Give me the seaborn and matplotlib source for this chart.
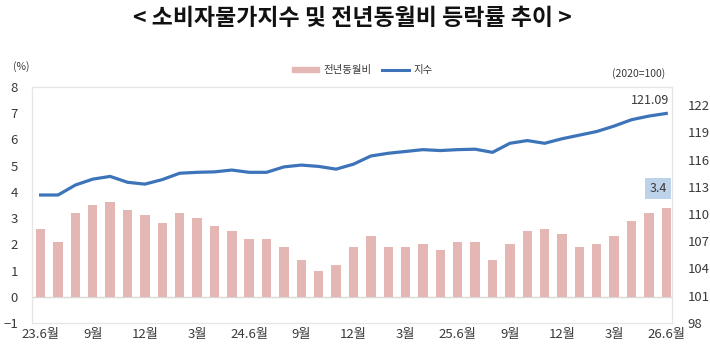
import numpy as np
import pandas as pd
import matplotlib.pyplot as plt
import seaborn as sns
from matplotlib.patches import Patch
from matplotlib.lines import Line2D

# 23.6 ~ 26.6 monthly
months = ['23.6', '23.7', '23.8', '23.9', '23.10', '23.11', '23.12',
          '24.1', '24.2', '24.3', '24.4', '24.5', '24.6', '24.7', '24.8', '24.9', '24.10', '24.11', '24.12',
          '25.1', '25.2', '25.3', '25.4', '25.5', '25.6', '25.7', '25.8', '25.9', '25.10', '25.11', '25.12',
          '26.1', '26.2', '26.3', '26.4', '26.5', '26.6']
yoy = [2.6, 2.1, 3.2, 3.5, 3.6, 3.3, 3.1, 2.8, 3.2, 3.0, 2.7, 2.5, 2.2, 2.2, 1.9, 1.4, 1.0, 1.2, 1.9,
       2.3, 1.9, 1.9, 2.0, 1.8, 2.1, 2.1, 1.4, 2.0, 2.5, 2.6, 2.4, 1.9, 2.0, 2.3, 2.9, 3.2, 3.4]
cpi = [112.1, 112.1, 113.2, 113.85, 114.15, 113.5, 113.3, 113.8, 114.5, 114.6, 114.65, 114.85, 114.6,
       114.6, 115.2, 115.4, 115.25, 114.95, 115.5, 116.4, 116.7, 116.9, 117.1, 117.0, 117.1, 117.15,
       116.8, 117.8, 118.1, 117.8, 118.3, 118.7, 119.1, 119.7, 120.4, 120.8, 121.09]
tick_labels = ['23.6월', '9월', '12월', '3월', '24.6월', '9월', '12월', '3월', '25.6월', '9월', '12월', '3월', '26.6월']

df = pd.DataFrame({'pos': np.arange(len(months)), 'month': months, 'yoy': yoy, 'cpi': cpi})

plt.rcParams['font.family'] = ['Noto Sans CJK KR', 'DejaVu Sans']

bar_color = '#E4B6B4'
line_color = '#3D74B9'
txt_color = '#3a3a3a'

fig = plt.figure(figsize=(7.1, 3.51), dpi=100)
ax = fig.add_axes([0.045, 0.080, 0.902, 0.672])

sns.barplot(data=df, x='pos', y='yoy', color=bar_color, width=0.54, native_scale=True,
            saturation=1, ax=ax)
ax.set_xlim(-0.5, 36.35)
ax.set_ylim(-1, 8)
ax.set_yticks(range(-1, 9))
ax.axhline(0, color='#d9d9d9', lw=1, zorder=0)

ax2 = ax.twinx()
sns.lineplot(data=df, x='pos', y='cpi', color=line_color, lw=2.3, ax=ax2)
ax2.set_ylim(98, 124)
ax2.set_yticks(range(98, 123, 3))

ax.set_xticks(np.arange(0, len(months), 3))
ax.set_xticklabels(tick_labels)
for a in (ax, ax2):
    a.set_xlabel('')
    a.set_ylabel('')
    a.tick_params(length=0, labelsize=9.5, colors=txt_color)
    for s in a.spines.values():
        s.set_color('#e6e6e6')
        s.set_linewidth(0.8)
ax.tick_params(axis='y', pad=10)
ax2.tick_params(axis='y', pad=11)
ax.tick_params(axis='x', pad=4)

ax2.annotate('121.09', (36, 121.09), xytext=(-12, 5), textcoords='offset points',
             ha='center', va='bottom', fontsize=9, color=txt_color)
ax.annotate('3.4', (36, 3.4), xytext=(-6, 9), textcoords='offset points',
            ha='center', va='bottom', fontsize=9, color=txt_color,
            bbox=dict(boxstyle='square,pad=0.35', fc='#BDD3EA', ec='none'))

handles = [Patch(color=bar_color), Line2D([0], [0], color=line_color, lw=2.2)]
fig.legend(handles, ['전년동월비', '지수'], loc='center', bbox_to_anchor=(0.51, 0.80),
           ncol=2, frameon=False, fontsize=7.5, handlelength=2.6, handleheight=0.5,
           columnspacing=1.0, handletextpad=0.4, labelcolor=txt_color)

fig.text(0.018, 0.80, '(%)', fontsize=7.5, color=txt_color)
fig.text(0.937, 0.78, '(2020=100)', fontsize=7.5, color=txt_color, ha='right')
fig.text(0.497, 0.948, '< 소비자물가지수 및 전년동월비 등락률 추이 >', ha='center', va='center',
         fontsize=16.5, fontweight='bold', color='#111111')

fig.savefig('out.png', dpi=100)
